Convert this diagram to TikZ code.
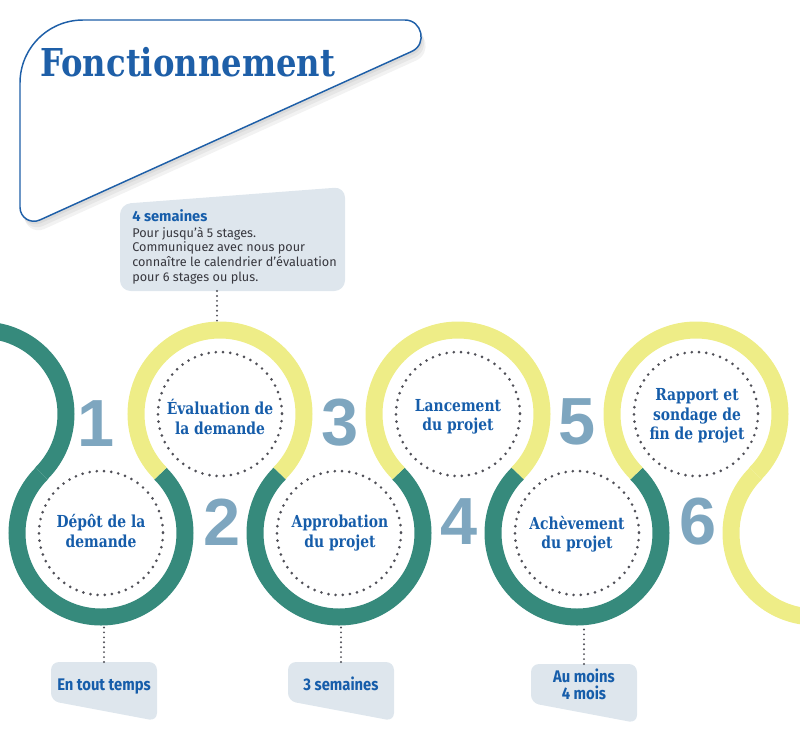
\documentclass[tikz,border=0pt]{standalone}
\usepackage{fontspec}
\setmainfont{Fira Sans}
\newfontfamily\slabfont{DejaVu Serif}[FakeStretch=0.84]
\newfontfamily\numfont{Liberation Sans}
\newfontfamily\narrowfont{Fira Sans}[FakeStretch=0.88]

\definecolor{ringgreen}{RGB}{54,138,124}
\definecolor{ringyellow}{RGB}{238,237,135}
\definecolor{numblue}{RGB}{126,166,191}
\definecolor{textblue}{RGB}{22,93,170}
\definecolor{titleblue}{RGB}{30,95,168}
\definecolor{boxgrey}{RGB}{222,230,237}
\definecolor{dotgrey}{RGB}{80,80,88}
\definecolor{bodygrey}{RGB}{55,55,62}

\tikzset{
  ring/.style={line width=12.75pt},
  dotring/.style={dotgrey, line width=2.2pt, line cap=round, dash pattern=on 0pt off 5.4pt},
  dotlink/.style={dotgrey, line width=1.6pt, line cap=round, dash pattern=on 0pt off 3.7pt},
  steplabel/.style={text=textblue, font=\slabfont\bfseries\fontsize{12.4}{14.6}\selectfont, align=center, inner sep=0pt},
  stepnum/.style={text=numblue, font=\numfont\bfseries\fontsize{50}{50}\selectfont, inner sep=0pt},
  delaytext/.style={text=textblue, font=\narrowfont\bfseries\fontsize{12.6}{12.4}\selectfont, align=center, inner sep=0pt},
  delaybox/.style={fill=boxgrey, rounded corners=6pt},
  panelshadow/.style={fill=black, opacity=0.05},
}

\begin{document}
\begin{tikzpicture}[x=0.75pt,y=0.75pt,yscale=-1,xscale=1]
\useasboundingbox (0,0) rectangle (800,747);
\clip (0,0) rectangle (800,747);

%Shape: Title panel shadow
\fill [panelshadow, shift={(1.5,3)}] (20,207.3) -- (20,83) .. controls (20,48.2) and (48.2,20) .. (83,20) -- (405,20) .. controls (422.2,20) and (427.5,44.3) .. (411.8,51.4) -- (39.8,220) .. controls (30.5,224.2) and (20,217.5) .. (20,207.3) -- cycle ;
\fill [panelshadow, shift={(3,6)}] (20,207.3) -- (20,83) .. controls (20,48.2) and (48.2,20) .. (83,20) -- (405,20) .. controls (422.2,20) and (427.5,44.3) .. (411.8,51.4) -- (39.8,220) .. controls (30.5,224.2) and (20,217.5) .. (20,207.3) -- cycle ;
\fill [panelshadow, shift={(4.5,9)}] (20,207.3) -- (20,83) .. controls (20,48.2) and (48.2,20) .. (83,20) -- (405,20) .. controls (422.2,20) and (427.5,44.3) .. (411.8,51.4) -- (39.8,220) .. controls (30.5,224.2) and (20,217.5) .. (20,207.3) -- cycle ;
%Shape: Title panel
\draw [titleblue, line width=1.1pt, fill=white] (20,207.3) -- (20,83) .. controls (20,48.2) and (48.2,20) .. (83,20) -- (405,20) .. controls (422.2,20) and (427.5,44.3) .. (411.8,51.4) -- (39.8,220) .. controls (30.5,224.2) and (20,217.5) .. (20,207.3) -- cycle ;
% Text Node
\node (title) [anchor=base west, inner sep=0pt, text=titleblue, font=\slabfont\bfseries\fontsize{28.8}{30}\selectfont] at (40,76) {Fonctionnement};

%Shape: Callout box
\fill [boxgrey, rounded corners=8pt] (120,204) -- (345,187) -- (345,291) -- (120,291) -- cycle ;
% Text Node
\node (callhead) [anchor=base west, inner sep=0pt, text=textblue, font=\bfseries\fontsize{11}{12}\selectfont] at (132,221) {4 semaines};
% Text Node
\node (callbody) [anchor=north west, inner sep=0pt, align=left, text=bodygrey, font=\fontsize{9.5}{10.9}\selectfont] at (132,227) {Pour jusqu’à 5 stages.\\Communiquez avec nous pour\\connaître le calendrier d’évaluation\\pour 6 stages ou plus.};

%Curve Lines: left end
\draw [ring, ringgreen] (-18,414) ++(45:84) arc [start angle=45, end angle=-110, radius=84] ;
%Curve Lines: step 1
\draw [ring, ringgreen] (101,533) ++(225:84) arc [start angle=225, end angle=-45, radius=84] ;
%Curve Lines: step 2
\draw [ring, ringyellow] (220,414) ++(135:84) arc [start angle=135, end angle=405, radius=84] ;
%Curve Lines: step 3
\draw [ring, ringgreen] (339,533) ++(225:84) arc [start angle=225, end angle=-45, radius=84] ;
%Curve Lines: step 4
\draw [ring, ringyellow] (458,414) ++(135:84) arc [start angle=135, end angle=405, radius=84] ;
%Curve Lines: step 5
\draw [ring, ringgreen] (577,533) ++(225:84) arc [start angle=225, end angle=-45, radius=84] ;
%Curve Lines: step 6
\draw [ring, ringyellow] (696,414) ++(135:84) arc [start angle=135, end angle=405, radius=84] ;
%Curve Lines: right end
\draw [ring, ringyellow] (815,533) ++(225:84) arc [start angle=225, end angle=60, radius=84] ;

%Shape: dotted circles
\draw [dotring] (101,533) circle [radius=62] ;
\draw [dotring] (220,414) circle [radius=62] ;
\draw [dotring] (339,533) circle [radius=62] ;
\draw [dotring] (458,414) circle [radius=62] ;
\draw [dotring] (577,533) circle [radius=62] ;
\draw [dotring] (696,414) circle [radius=62] ;

% Text Node
\node (depot) [steplabel] at (101,531) {Dépôt de la\\demande};
% Text Node
\node (evaluation) [steplabel] at (220,417) {Évaluation de\\la demande};
% Text Node
\node (approbation) [steplabel] at (340,533) {Approbation\\du projet};
% Text Node
\node (lancement) [steplabel] at (458,417) {Lancement\\du projet};
% Text Node
\node (achevement) [steplabel] at (577,534) {Achèvement\\du projet};
% Text Node
\node (rapport) [steplabel] at (697,416) {Rapport et\\sondage de\\fin de projet};

% Text Node
\node (n1) [stepnum] at (96,423.5) {1};
\node (n2) [stepnum] at (222.5,522.5) {2};
\node (n3) [stepnum] at (340,422.5) {3};
\node (n4) [stepnum] at (459,522) {4};
\node (n5) [stepnum] at (577.5,422) {5};
\node (n6) [stepnum] at (698.5,522) {6};

%Shape: delay boxes
\fill [delaybox] (51,662) -- (157,662) -- (157,721) -- (51,701) -- cycle ;
\fill [delaybox] (288,662) -- (394,662) -- (394,721) -- (288,701) -- cycle ;
\fill [delaybox] (531,664) -- (637,664) -- (637,723) -- (531,703) -- cycle ;
% Text Node
\node (tout) [delaytext, anchor=base] at (104,690) {En tout temps};
% Text Node
\node (trois) [delaytext, anchor=base] at (341,690) {3 semaines};
% Text Node
\node (moins) [delaytext, anchor=base] at (584,699) {Au moins\\4 mois};

%Straight Lines: dotted links
\coordinate (callfoot) at (217,291);
\coordinate (ring2top) at (217,322);
\coordinate (toutfoot) at (104,662);
\coordinate (ring1bot) at (104,626);
\coordinate (troisfoot) at (341,662);
\coordinate (ring3bot) at (341,626);
\coordinate (moinsfoot) at (584,664);
\coordinate (ring5bot) at (584,626);
\draw [dotlink] (callfoot) -- (ring2top) ;
\draw [dotlink] (toutfoot) -- (ring1bot) ;
\draw [dotlink] (troisfoot) -- (ring3bot) ;
\draw [dotlink] (moinsfoot) -- (ring5bot) ;

\end{tikzpicture}
\end{document}
